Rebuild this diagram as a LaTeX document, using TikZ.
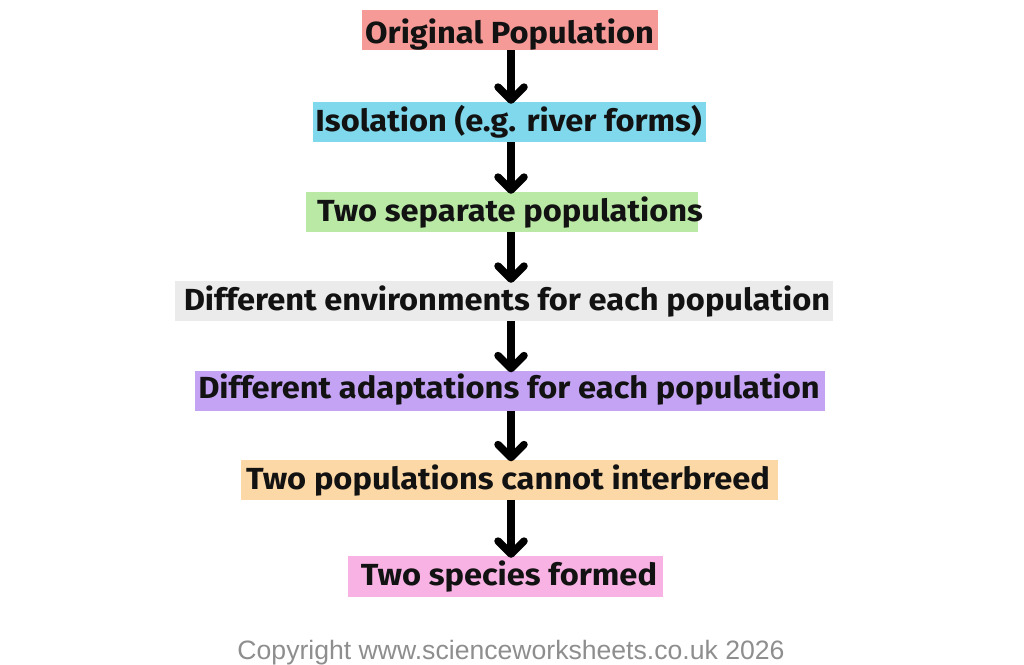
\documentclass[tikz,border=0pt]{standalone}
\usepackage{fontspec}
\setmainfont{Fira Sans}
\newfontfamily\copyfont{Liberation Sans}
\usetikzlibrary{arrows.meta}
\definecolor{cOrig}{HTML}{F59A96}
\definecolor{cIso}{HTML}{80D8EC}
\definecolor{cTwo}{HTML}{BAE8A5}
\definecolor{cEnv}{HTML}{EBEBEB}
\definecolor{cAdapt}{HTML}{C4A3F5}
\definecolor{cInter}{HTML}{FDD8A7}
\definecolor{cSpec}{HTML}{F8B3E4}
\definecolor{cCopy}{HTML}{8E8E8E}
\newcommand{\stagetext}[1]{\scalebox{1.07}[1]{#1}}
\tikzset{
  stagebox/.style={inner sep=0pt, minimum height=40pt},
  stagelabel/.style={inner sep=0pt, anchor=base, text=black!93,
    font=\fontsize{30.5}{33}\selectfont\bfseries},
  flowarrow/.style={line width=7.5pt,
    -{Straight Barb[length=13pt,width=26pt,round]}},
}
\begin{document}
\begin{tikzpicture}[x=1pt,y=-1pt]
\useasboundingbox (0,0) rectangle (1024,664);
\coordinate (col) at (511,0);
\node[stagebox, fill=cOrig, minimum width=296pt] (n1) at (510,30) {};
\node[stagebox, fill=cIso, minimum width=393pt] (n2) at (509.5,122) {};
\node[stagebox, fill=cTwo, minimum width=392pt] (n3) at (502,212) {};
\node[stagebox, fill=cEnv, minimum width=658pt] (n4) at (504,301) {};
\node[stagebox, fill=cAdapt, minimum width=630pt] (n5) at (510,390.5) {};
\node[stagebox, fill=cInter, minimum width=537pt] (n6) at (509.5,479.5) {};
\node[stagebox, fill=cSpec, minimum width=315pt, minimum height=41pt] (n7) at (505.5,576.5) {};
\node[stagelabel] (t1) at (509.5,43) {\stagetext{Original Population}};
\node[stagelabel] (t2) at (508.5,131.5) {\stagetext{Isolation (e.g. river forms)}};
\node[stagelabel] (t3) at (510,221.5) {\stagetext{Two separate populations}};
\node[stagelabel] (t4) at (507,310) {\stagetext{Different environments for each population}};
\node[stagelabel] (t5) at (509,398.5) {\stagetext{Different adaptations for each population}};
\node[stagelabel] (t6) at (508,489.3) {\stagetext{Two populations cannot interbreed}};
\node[stagelabel] (t7) at (509,585.7) {\stagetext{Two species formed}};
\foreach \a/\b in {n1/n2,n2/n3,n3/n4,n4/n5,n5/n6,n6/n7}
  \draw[flowarrow] (\a.south -| col) -- ([yshift=-2pt]\b.north -| col);
\node[text=cCopy, font=\copyfont\fontsize{26.6}{30}\selectfont, inner sep=0pt, anchor=base] (copy) at (511,659) {Copyright www.scienceworksheets.co.uk 2026};
\end{tikzpicture}
\end{document}
